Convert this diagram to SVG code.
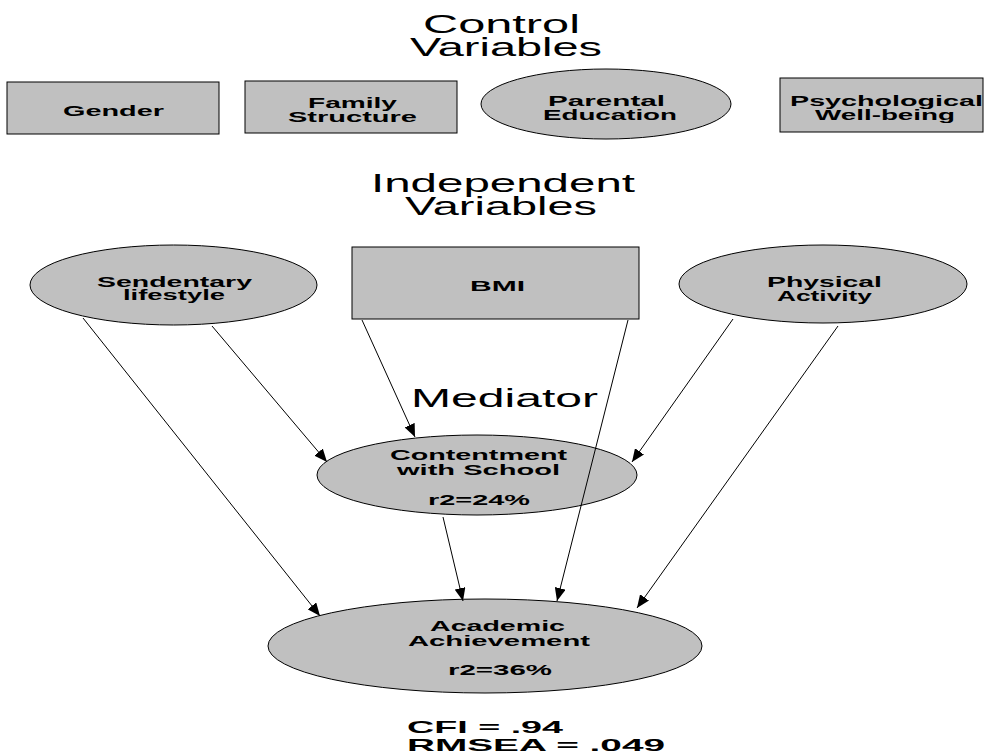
<svg xmlns="http://www.w3.org/2000/svg" width="984" height="754" viewBox="0 0 984 754">
<style>
.node{fill:#c0c0c0;stroke:#000;stroke-width:1}
.lbl{font-family:"Liberation Sans",Arial,sans-serif;font-weight:bold;font-size:15px;fill:#000}
.sm{font-size:14px}
.ttl{font-family:"Liberation Sans",Arial,sans-serif;font-size:25px;fill:#000}
.fit{font-family:"Liberation Sans",Arial,sans-serif;font-weight:bold;font-size:17px;fill:#000}
.edge{stroke:#000;stroke-width:1;fill:none;marker-end:url(#ah)}
</style>
<defs>
<marker id="ah" markerUnits="userSpaceOnUse" markerWidth="13" markerHeight="11" refX="13" refY="5.5" orient="auto">
<path d="M0,0 L13,5.5 L0,11 z" fill="#000"/>
</marker>
</defs>
<rect width="984" height="754" fill="#fff"/>
<g id="titles">
<text class="ttl" x="423" y="33" textLength="157" lengthAdjust="spacingAndGlyphs">Control</text>
<text class="ttl" x="410" y="56" textLength="192" lengthAdjust="spacingAndGlyphs">Variables</text>
<text class="ttl" x="371" y="192" textLength="264" lengthAdjust="spacingAndGlyphs">Independent</text>
<text class="ttl" x="405" y="215" textLength="192" lengthAdjust="spacingAndGlyphs">Variables</text>
<text class="ttl" x="411" y="407" textLength="187" lengthAdjust="spacingAndGlyphs">Mediator</text>
</g>
<g id="gender">
<rect class="node" x="7" y="82" width="212" height="52"/>
<text class="lbl" x="63" y="116" textLength="101" lengthAdjust="spacingAndGlyphs">Gender</text>
</g>
<g id="family">
<rect class="node" x="245" y="81" width="212" height="52"/>
<text class="lbl" x="308" y="108" textLength="89" lengthAdjust="spacingAndGlyphs">Family</text>
<text class="lbl" x="288" y="122" textLength="129" lengthAdjust="spacingAndGlyphs">Structure</text>
</g>
<g id="parental">
<ellipse class="node" cx="606" cy="104" rx="125" ry="35"/>
<text class="lbl" x="548" y="106" textLength="117" lengthAdjust="spacingAndGlyphs">Parental</text>
<text class="lbl" x="543" y="120" textLength="134" lengthAdjust="spacingAndGlyphs">Education</text>
</g>
<g id="psych">
<rect class="node" x="780" y="78" width="203" height="54"/>
<text class="lbl" x="790" y="106" textLength="193" lengthAdjust="spacingAndGlyphs">Psychological</text>
<text class="lbl" x="815" y="120" textLength="140" lengthAdjust="spacingAndGlyphs">Well-being</text>
</g>
<g id="sedentary">
<ellipse class="node" cx="173.5" cy="285" rx="143.5" ry="40"/>
<text class="lbl" x="97" y="287" textLength="155" lengthAdjust="spacingAndGlyphs">Sendentary</text>
<text class="lbl" x="123" y="300" textLength="102" lengthAdjust="spacingAndGlyphs">lifestyle</text>
</g>
<g id="bmi">
<rect class="node" x="352" y="247" width="287" height="72"/>
<text class="lbl" x="470" y="291" textLength="55" lengthAdjust="spacingAndGlyphs">BMI</text>
</g>
<g id="physical">
<ellipse class="node" cx="823" cy="284" rx="144" ry="39"/>
<text class="lbl" x="767" y="287" textLength="115" lengthAdjust="spacingAndGlyphs">Physical</text>
<text class="lbl" x="777" y="301" textLength="95" lengthAdjust="spacingAndGlyphs">Activity</text>
</g>
<g id="contentment">
<ellipse class="node" cx="477" cy="475" rx="160" ry="40"/>
<text class="lbl sm" x="390" y="460" textLength="177" lengthAdjust="spacingAndGlyphs">Contentment</text>
<text class="lbl sm" x="397" y="475" textLength="163" lengthAdjust="spacingAndGlyphs">with School</text>
<text class="lbl sm" x="428" y="505" textLength="102" lengthAdjust="spacingAndGlyphs">r2=24%</text>
</g>
<g id="academic">
<ellipse class="node" cx="485" cy="646" rx="217" ry="47"/>
<text class="lbl sm" x="430" y="631" textLength="135" lengthAdjust="spacingAndGlyphs">Academic</text>
<text class="lbl sm" x="408" y="646" textLength="182" lengthAdjust="spacingAndGlyphs">Achievement</text>
<text class="lbl sm" x="448" y="675" textLength="104" lengthAdjust="spacingAndGlyphs">r2=36%</text>
</g>
<g id="connectors">
<line class="edge" x1="83" y1="318" x2="320" y2="616"/>
<line class="edge" x1="212" y1="326" x2="327" y2="462"/>
<line class="edge" x1="362" y1="320" x2="415" y2="437"/>
<line class="edge" x1="628" y1="320" x2="557" y2="601"/>
<line class="edge" x1="733" y1="319" x2="632" y2="462"/>
<line class="edge" x1="838" y1="326" x2="637" y2="608"/>
<line class="edge" x1="443" y1="517" x2="463" y2="601"/>
</g>
<g id="fit">
<text class="fit" x="407" y="733" textLength="156" lengthAdjust="spacingAndGlyphs">CFI = .94</text>
<text class="fit" x="407" y="751" textLength="258" lengthAdjust="spacingAndGlyphs">RMSEA = .049</text>
</g>
</svg>
